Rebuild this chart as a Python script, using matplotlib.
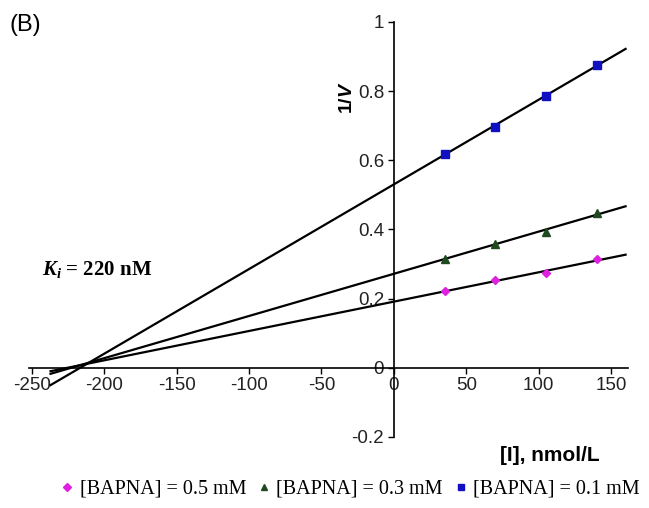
import numpy as np
import matplotlib
matplotlib.use('Agg')
import matplotlib.pyplot as plt
from matplotlib.lines import Line2D

plt.rcParams['mathtext.fontset'] = 'custom'
plt.rcParams['mathtext.it'] = 'Liberation Serif:italic:bold'
plt.rcParams['mathtext.rm'] = 'Liberation Serif:bold'
plt.rcParams['mathtext.sf'] = 'Liberation Sans:italic:bold'

# inhibitor concentration [I], nmol/L
inhib = [35, 70, 105, 140]

# 1/V for each substrate concentration
inv_v_05 = [0.221, 0.253, 0.274, 0.313]
inv_v_03 = [0.315, 0.359, 0.393, 0.446]
inv_v_01 = [0.619, 0.697, 0.786, 0.875]

labels = ['[BAPNA] = 0.5 mM', '[BAPNA] = 0.3 mM', '[BAPNA] = 0.1 mM']
x_ticks = [-250, -200, -150, -100, -50, 0, 50, 100, 150]
y_ticks = [-0.2, 0, 0.2, 0.4, 0.6, 0.8, 1]

series = [
    (inv_v_05, 'D', '#e020e0', 4.5),
    (inv_v_03, '^', '#1f4a1f', 6),
    (inv_v_01, 's', '#1010c0', 6),
]

fig = plt.figure(figsize=(6.49, 5.08), dpi=100)
ax = fig.add_axes([0.0444, 0.140, 0.924, 0.817])

# trend lines, extended back to the left edge
x_fit = np.array([-237, 160])
for vals, mk, col, ms in series:
    k, b = np.polyfit(inhib, vals, 1)
    ax.plot(x_fit, k * x_fit + b, color='black', lw=1.6, zorder=2)
for vals, mk, col, ms in series:
    ax.plot(inhib, vals, linestyle='none', marker=mk, color=col, ms=ms, zorder=3)

ax.set_xlim(-252, 162)
ax.set_ylim(-0.2, 1.0)

for s in ['top', 'right']:
    ax.spines[s].set_visible(False)
ax.spines['left'].set_position(('data', 0))
ax.spines['bottom'].set_position(('data', 0))
ax.spines['left'].set_linewidth(1.2)
ax.spines['bottom'].set_linewidth(1.2)

ax.set_xticks(x_ticks)
ax.set_xticklabels([str(t) for t in x_ticks])
ax.set_yticks(y_ticks)
ax.set_yticklabels(['-0.2', '0', '0.2', '0.4', '0.6', '0.8', '1'])
ax.tick_params(axis='both', direction='out', length=4, width=1.0,
               labelsize=13.5, colors='black', pad=3)
for lab in ax.get_xticklabels() + ax.get_yticklabels():
    lab.set_fontfamily('Liberation Sans')
    lab.set_color('#222222')

ax.text(-32, 0.78, '1/$\\mathsf{V}$', rotation=90, fontsize=14, fontweight='bold',
        family='Liberation Sans', ha='center', va='center')
ax.text(142, -0.255, '[I], nmol/L', fontsize=15, fontweight='bold',
        family='Liberation Sans', ha='right', va='center')
ax.text(-243, 0.283, '$K_i$ = 220 nM', fontsize=15, fontweight='bold',
        family='Liberation Serif', ha='left', va='center')
fig.text(0.014, 0.950, '(B)', fontsize=17, family='Liberation Sans', ha='left', va='center')

handles = [Line2D([], [], linestyle='none', marker=mk, color=col, ms=ms * 0.8)
           for vals, mk, col, ms in series]
fig.legend(handles, labels, loc='center', bbox_to_anchor=(0.54, 0.037), ncol=3,
           frameon=False, prop={'family': 'Liberation Serif', 'size': 14.5},
           handlelength=0.6, handletextpad=0.3, columnspacing=0.6)

fig.savefig('out.png', dpi=100)
